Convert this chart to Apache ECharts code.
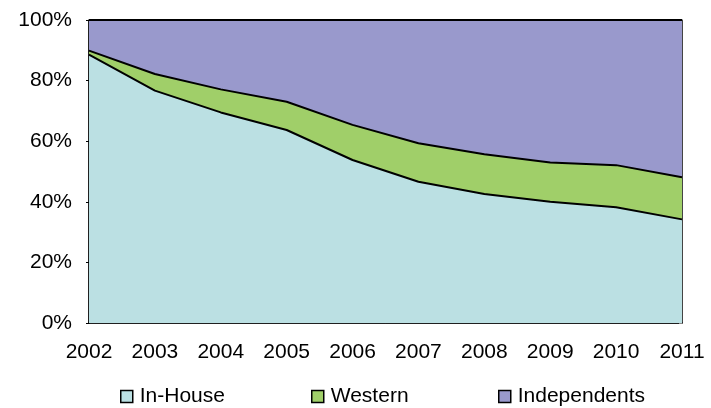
<!DOCTYPE html>
<html lang="en" style="height: 100%;width: 100%">
<head>
    <meta charset="utf-8">
</head>
<body style="height: 100%;width: 100%; margin: 0">
<div id="container" style="height: 408px;width: 711px;"></div>
<script type="text/javascript" src="https://cdn.jsdelivr.net/npm/echarts@6/dist/echarts.min.js"></script>
<script type="text/javascript">
    // data (share of total, %)
    var years = ['2002', '2003', '2004', '2005', '2006', '2007', '2008', '2009', '2010', '2011'];
    var inHouse = [88.6, 76.7, 69.5, 63.7, 53.8, 46.6, 42.6, 40.0, 38.2, 34.2];
    var western = [1.3, 5.5, 7.6, 9.3, 11.6, 12.7, 13.1, 13.0, 13.9, 13.9];
    var independents = [10.1, 17.8, 22.9, 27.0, 34.6, 40.7, 44.3, 47.0, 47.9, 51.9];

    var names = ['In-House', 'Western', 'Independents'];
    var colors = ['#BBE0E3', '#A0CF69', '#9999CC'];
    var legendLeft = [120, 311, 498];

    var dom = document.getElementById('container');
    var myChart = echarts.init(dom, null, {renderer: 'canvas'});

    var font = 'Liberation Sans, Arial, sans-serif';

    function makeSeries(name, data, color) {
        return {
            name: name,
            type: 'line',
            stack: 'total',
            data: data,
            symbol: 'none',
            animation: false,
            lineStyle: {color: '#000000', width: 2},
            itemStyle: {color: color},
            areaStyle: {color: color, opacity: 1}
        };
    }

    var legends = [];
    for (var i = 0; i < names.length; i++) {
        legends.push({
            left: legendLeft[i],
            top: 386,
            padding: 0,
            itemWidth: 12,
            itemHeight: 12,
            selectedMode: false,
            data: [{
                name: names[i],
                icon: 'rect',
                itemStyle: {color: colors[i], borderColor: '#000000', borderWidth: 1.5}
            }],
            textStyle: {fontFamily: font, fontSize: 21, color: '#000000', padding: [0, 0, 0, 2]}
        });
    }

    var option = {
        backgroundColor: '#ffffff',
        grid: {
            left: 89,
            top: 20,
            right: 29,
            bottom: 85,
            show: true,
            borderColor: '#000000',
            borderWidth: 1
        },
        legend: legends,
        xAxis: {
            type: 'category',
            data: years,
            boundaryGap: false,
            axisLine: {show: true, lineStyle: {color: '#000000', width: 1.5}},
            axisTick: {show: false},
            axisLabel: {fontFamily: font, fontSize: 21, color: '#000000', margin: 19}
        },
        yAxis: [{
            type: 'value',
            min: 0,
            max: 100,
            interval: 20,
            axisLine: {show: true, lineStyle: {color: '#000000', width: 1.5}},
            axisTick: {show: true, length: 3, lineStyle: {color: '#000000'}},
            splitLine: {show: false},
            axisLabel: {formatter: '{value}%', fontFamily: font, fontSize: 21, color: '#000000', margin: 17}
        }, {
            type: 'value',
            position: 'right',
            min: 0,
            max: 100,
            interval: 20,
            axisLine: {show: true, lineStyle: {color: '#444444', width: 1}},
            axisTick: {show: true, inside: true, length: 3, lineStyle: {color: '#888888'}},
            splitLine: {show: false},
            axisLabel: {show: false}
        }],
        series: [
            makeSeries(names[0], inHouse, colors[0]),
            makeSeries(names[1], western, colors[1]),
            makeSeries(names[2], independents, colors[2])
        ]
    };
    myChart.setOption(option);
</script>
</body>
</html>
